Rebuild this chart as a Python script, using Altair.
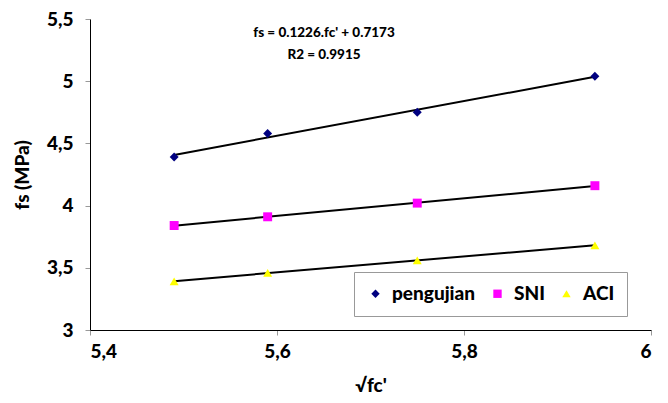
import altair as alt
import pandas as pd

x_vals = [5.49, 5.59, 5.75, 5.94]
pengujian = [4.39, 4.58, 4.75, 5.04]
sni = [3.84, 3.91, 4.02, 4.16]
aci = [3.39, 3.46, 3.56, 3.68]
series_names = ["pengujian", "SNI", "ACI"]
x_ticks = [5.4, 5.6, 5.8, 6.0]
y_ticks = [3, 3.5, 4, 4.5, 5, 5.5]
eq_lines = ["fs = 0.1226.fc' + 0.7173", "R2 = 0.9915"]

rows = []
for name, vals in zip(series_names, [pengujian, sni, aci]):
    for xv, yv in zip(x_vals, vals):
        rows.append({"x": xv, "y": yv, "series": name})
df = pd.DataFrame(rows)

FONT = "Lato"
W = 900
fmt = "replace(format(datum.value, ''), '.', ',')"

xenc = alt.X("x:Q", scale=alt.Scale(domain=[5.4, 6.0], nice=False, zero=False),
             axis=alt.Axis(values=x_ticks, labelExpr=fmt, title="√fc'", grid=False,
                           domainColor="black", tickColor="#999999", tickSize=5,
                           labelFont=FONT, labelFontSize=19, labelFontWeight=W,
                           labelColor="black", labelPadding=7,
                           titleFont=FONT, titleFontSize=19, titleFontWeight=W,
                           titleColor="black", titlePadding=15))
yenc = alt.Y("y:Q", scale=alt.Scale(domain=[3, 5.5], nice=False, zero=False),
             axis=alt.Axis(values=y_ticks, labelExpr=fmt, title="fs (MPa)", grid=False,
                           domainColor="black", tickColor="#999999", tickSize=5,
                           labelFont=FONT, labelFontSize=19, labelFontWeight=W,
                           labelColor="black", labelPadding=12,
                           titleFont=FONT, titleFontSize=19, titleFontWeight=W,
                           titleColor="black", titlePadding=14))

leg = alt.Legend(title=None, orient="none", legendX=264, legendY=253,
                 direction="horizontal", strokeColor="#999999",
                 padding=12, labelFont=FONT, labelFontSize=19,
                 labelFontWeight=W, labelColor="black",
                 symbolSize=70, columnPadding=12, labelOffset=7)

base = alt.Chart(df)

lines = base.transform_regression("x", "y", groupby=["series"]).mark_line(
    color="black", strokeWidth=2).encode(x=xenc, y=yenc, detail="series:N")

points = base.mark_point(filled=True, size=80, opacity=1).encode(
    x=xenc, y=yenc,
    color=alt.Color("series:N",
                    scale=alt.Scale(domain=series_names, range=["#000080", "#FF00FF", "#FFFF00"]),
                    legend=leg),
    shape=alt.Shape("series:N",
                    scale=alt.Scale(domain=series_names, range=["diamond", "square", "triangle-up"]),
                    legend=leg),
)

eq_df = pd.DataFrame({"t": eq_lines, "px": [234, 234], "py": [14, 36]})
eq = alt.Chart(eq_df).mark_text(font=FONT, fontSize=13.5, fontWeight=W,
                                color="black", align="center", baseline="middle").encode(
    text="t:N", x=alt.X("px:Q", scale=None), y=alt.Y("py:Q", scale=None))

chart = alt.layer(lines, points, eq).properties(
    width=561, height=311,
    autosize=alt.AutoSizeParams(type="none"),
    padding={"left": 90, "top": 19, "right": 17, "bottom": 73},
).configure_view(stroke=None)

chart.save("out.html", embed_options={"renderer": "svg", "actions": False})
